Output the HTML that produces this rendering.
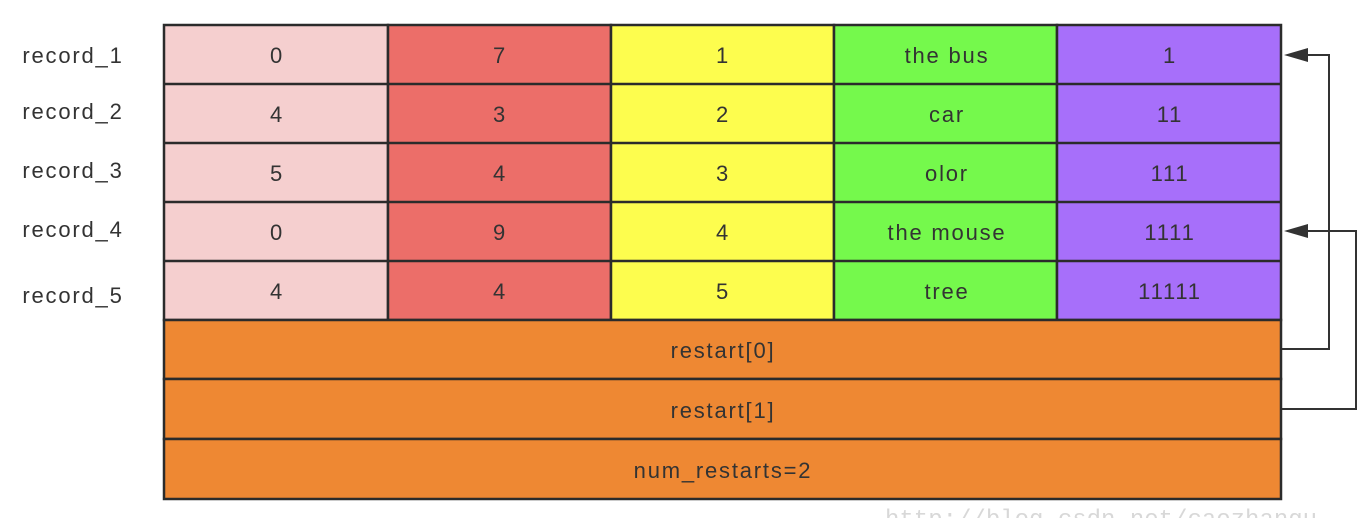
<!DOCTYPE html>
<html><head><meta charset="utf-8"><style>
html,body{margin:0;padding:0;background:#fff;}
svg text{font-family:"Liberation Sans","DejaVu Sans",sans-serif;font-size:22px;letter-spacing:1.8px;fill:#333;}
</style></head><body>
<svg width="1366" height="518" xmlns="http://www.w3.org/2000/svg">
<g stroke="#2b2b2b" stroke-width="2.5">
<rect x="164" y="25" width="224" height="295" fill="#f5cfcf"/>
<rect x="388" y="25" width="223" height="295" fill="#ec6e69"/>
<rect x="611" y="25" width="223" height="295" fill="#fdfd4e"/>
<rect x="834" y="25" width="223" height="295" fill="#75f94c"/>
<rect x="1057" y="25" width="224" height="295" fill="#a76ffa"/>
<rect x="164" y="320" width="1117" height="59" fill="#ee8833"/>
<rect x="164" y="379" width="1117" height="60" fill="#ee8833"/>
<rect x="164" y="439" width="1117" height="60" fill="#ee8833"/>
<line x1="164" y1="84" x2="1281" y2="84"/>
<line x1="164" y1="143" x2="1281" y2="143"/>
<line x1="164" y1="202" x2="1281" y2="202"/>
<line x1="164" y1="261" x2="1281" y2="261"/>
</g>
<g fill="none" stroke="#333" stroke-width="2">
<polyline points="1282,349 1329,349 1329,55 1300,55"/>
<polyline points="1282,409 1356,409 1356,231 1300,231"/>
</g>
<polygon points="1284,55 1308,48 1308,62" fill="#333"/>
<polygon points="1284,231 1308,224 1308,238" fill="#333"/>
<g text-anchor="middle">
<text x="277" y="63">0</text><text x="500" y="63">7</text><text x="723" y="63">1</text><text x="947" y="63">the bus</text><text x="1170" y="63">1</text>
<text x="277" y="122">4</text><text x="500" y="122">3</text><text x="723" y="122">2</text><text x="947" y="122">car</text><text x="1170" y="122">11</text>
<text x="277" y="181">5</text><text x="500" y="181">4</text><text x="723" y="181">3</text><text x="947" y="181">olor</text><text x="1170" y="181">111</text>
<text x="277" y="240">0</text><text x="500" y="240">9</text><text x="723" y="240">4</text><text x="947" y="240">the mouse</text><text x="1170" y="240">1111</text>
<text x="277" y="299">4</text><text x="500" y="299">4</text><text x="723" y="299">5</text><text x="947" y="299">tree</text><text x="1170" y="299">11111</text>
<text x="723" y="358">restart[0]</text>
<text x="723" y="418">restart[1]</text>
<text x="723" y="478">num_restarts=2</text>
<text x="73" y="63">record_1</text>
<text x="73" y="119">record_2</text>
<text x="73" y="178">record_3</text>
<text x="73" y="237">record_4</text>
<text x="73" y="303">record_5</text>
</g>
<text x="885" y="526" style="font-family:'Liberation Mono',monospace;font-size:24px;letter-spacing:0;fill:#d8d8d8">http://blog.csdn.net/caozhangu</text>
</svg>
</body></html>
